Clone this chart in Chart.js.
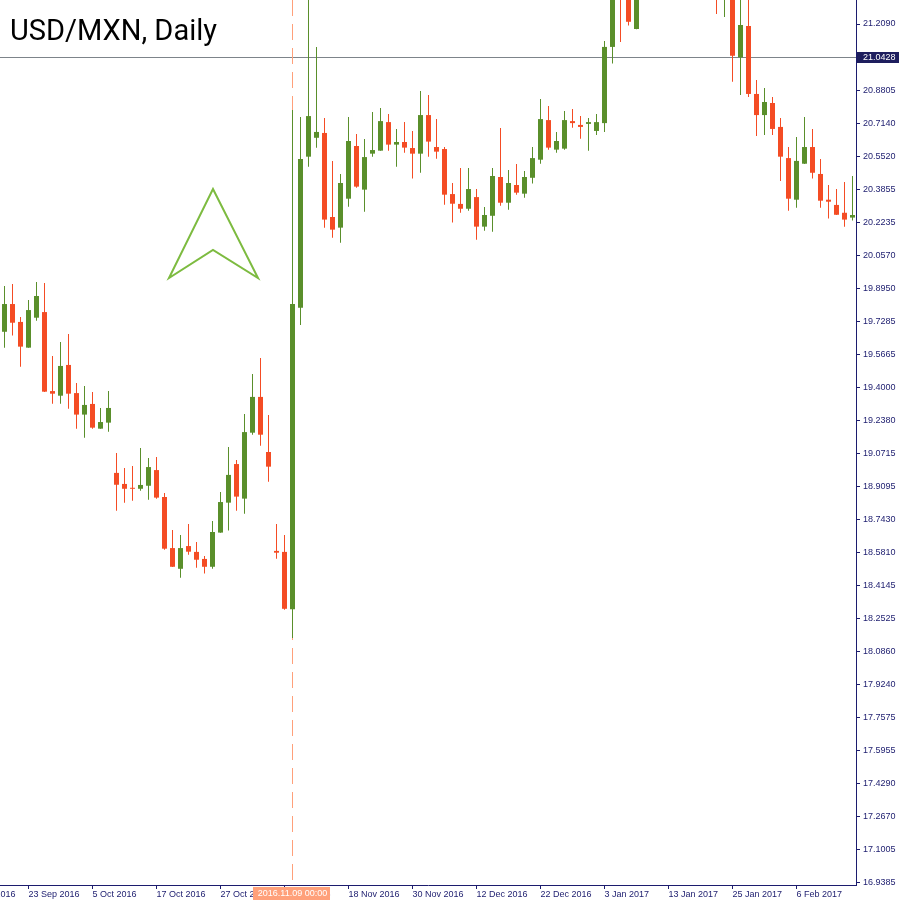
<!DOCTYPE html>
<html>
<head>
<meta charset="utf-8">
<title>USD/MXN, Daily</title>
<script src="https://cdn.jsdelivr.net/npm/chart.js@4.4.1/dist/chart.umd.min.js"></script>
<style>
    html, body { margin: 0; padding: 0; background: #ffffff; }
    #wrap { width: 901px; height: 901px; }
</style>
</head>
<body>
<div id="wrap"><canvas id="chart" width="901" height="901"></canvas></div>
<script>
// Daily bars, index 0 = 20 Sep 2016 ... 106 = 15 Feb 2017
const opens = [19.678, 19.816, 19.727, 19.599, 19.748, 19.776, 19.383, 19.360, 19.513, 19.373,
    19.266, 19.319, 19.196, 19.226, 18.976, 18.921, 18.901, 18.897, 18.912, 18.990,
    18.856, 18.602, 18.499, 18.612, 18.583, 18.548, 18.509, 18.679, 18.828, 19.020,
    18.848, 19.176, 19.354, 19.080, 18.588, 18.583, 18.298, 19.798, 20.549, 20.643,
    20.667, 20.249, 20.196, 20.340, 20.602, 20.385, 20.564, 20.579, 20.721, 20.609,
    20.622, 20.592, 20.564, 20.756, 20.597, 20.587, 20.363, 20.314, 20.290, 20.348,
    20.201, 20.255, 20.448, 20.320, 20.408, 20.365, 20.444, 20.534, 20.731, 20.584,
    20.589, 20.726, 20.707, 20.712, 20.677, 20.716, 21.095, 21.50, 21.45, 21.184,
    21.60, 21.65, 21.90, 21.70, 21.60, 21.88, 21.60, 21.78, 21.90, 21.62,
    21.45, 21.52, 21.043, 21.199, 20.861, 20.756, 20.816, 20.697, 20.542, 20.335,
    20.514, 20.597, 20.463, 20.335, 20.309, 20.270, 20.246];
const highs = [19.906, 19.916, 19.752, 19.836, 19.926, 19.921, 19.558, 19.627, 19.667, 19.423,
    19.408, 19.378, 19.299, 19.383, 19.075, 19.000, 19.010, 19.100, 19.050, 19.055,
    18.876, 18.692, 18.667, 18.722, 18.632, 18.563, 18.737, 18.881, 19.105, 19.040,
    19.269, 19.468, 19.548, 19.264, 18.722, 18.667, 20.781, 20.746, 21.39, 21.095,
    20.741, 20.528, 20.463, 20.746, 20.662, 20.637, 20.771, 20.791, 20.761, 20.687,
    20.721, 20.677, 20.876, 20.856, 20.736, 20.597, 20.418, 20.493, 20.493, 20.388,
    20.299, 20.493, 20.692, 20.483, 20.513, 20.478, 20.597, 20.836, 20.801, 20.672,
    20.776, 20.786, 20.751, 20.741, 20.761, 21.124, 21.46, 21.62, 21.50, 21.62,
    21.72, 22.04, 21.95, 21.80, 21.95, 21.92, 21.85, 22.00, 21.95, 21.70,
    21.60, 21.58, 21.37, 21.36, 20.930, 20.891, 20.846, 20.741, 20.597, 20.647,
    20.746, 20.687, 20.537, 20.408, 20.388, 20.423, 20.453];
const lows = [19.599, 19.659, 19.504, 19.598, 19.733, 19.379, 19.320, 19.320, 19.295, 19.196,
    19.151, 19.196, 19.195, 19.181, 18.788, 18.828, 18.838, 18.887, 18.843, 18.848,
    18.594, 18.508, 18.455, 18.569, 18.504, 18.475, 18.499, 18.678, 18.689, 18.788,
    18.773, 19.166, 19.111, 18.932, 18.549, 18.295, 18.155, 19.712, 20.499, 20.594,
    20.196, 20.146, 20.121, 20.300, 20.395, 20.275, 20.549, 20.578, 20.579, 20.499,
    20.569, 20.440, 20.469, 20.549, 20.539, 20.310, 20.221, 20.270, 20.280, 20.136,
    20.181, 20.176, 20.305, 20.285, 20.360, 20.345, 20.415, 20.514, 20.584, 20.569,
    20.584, 20.693, 20.638, 20.579, 20.657, 20.672, 21.012, 21.119, 21.201, 21.183,
    21.45, 21.55, 21.60, 21.45, 21.55, 21.55, 21.50, 21.70, 21.50, 21.259,
    21.244, 20.922, 20.856, 20.846, 20.652, 20.657, 20.657, 20.428, 20.280, 20.295,
    20.513, 20.440, 20.295, 20.241, 20.259, 20.201, 20.231];
const closes = [19.816, 19.723, 19.604, 19.786, 19.856, 19.380, 19.370, 19.508, 19.370, 19.266,
    19.314, 19.201, 19.229, 19.299, 18.917, 18.897, 18.897, 18.916, 19.005, 18.853,
    18.599, 18.509, 18.602, 18.584, 18.544, 18.509, 18.682, 18.831, 18.966, 18.858,
    19.179, 19.354, 19.166, 19.007, 18.579, 18.300, 19.816, 20.537, 20.751, 20.672,
    20.236, 20.186, 20.418, 20.627, 20.400, 20.547, 20.582, 20.726, 20.609, 20.622,
    20.594, 20.564, 20.756, 20.624, 20.574, 20.360, 20.315, 20.290, 20.388, 20.201,
    20.259, 20.453, 20.320, 20.418, 20.370, 20.448, 20.542, 20.736, 20.594, 20.627,
    20.731, 20.716, 20.697, 20.721, 20.721, 21.095, 21.42, 21.38, 21.220, 21.55,
    21.65, 21.90, 21.70, 21.55, 21.88, 21.60, 21.78, 21.90, 21.62, 21.45,
    21.52, 21.051, 21.204, 20.861, 20.756, 20.821, 20.687, 20.549, 20.340, 20.528,
    20.597, 20.469, 20.330, 20.325, 20.260, 20.236, 20.259];

const dateTickIndex = [-5, 3, 11, 19, 27, 35, 43, 51, 59, 67, 75, 83, 91, 99];
const dateTickLabels = ["13 Sep 2016", "23 Sep 2016", "5 Oct 2016", "17 Oct 2016", "27 Oct 2016",
    "8 Nov 2016", "18 Nov 2016", "30 Nov 2016", "12 Dec 2016", "22 Dec 2016", "3 Jan 2017",
    "13 Jan 2017", "25 Jan 2017", "6 Feb 2017"];
const priceTicks = [21.2090, 20.8805, 20.7140, 20.5520, 20.3855, 20.2235, 20.0570, 19.8950,
    19.7285, 19.5665, 19.4000, 19.2380, 19.0715, 18.9095, 18.7430, 18.5810, 18.4145, 18.2525,
    18.0860, 17.9240, 17.7575, 17.5955, 17.4290, 17.2670, 17.1005, 16.9385];

const priceLine = 21.0428;
const markerIndex = 36;
const markerLabel = "2016.11.09 00:00";
// arrow object anchors: [bar index, price]
const arrowPoints = [[26.06, 20.388], [31.69, 19.9455], [26.06, 20.0848], [20.56, 19.9455]];

const UP = "#5a8f2b";
const DOWN = "#f44c24";
const NAVY = "#1c1c6e";
const AXIS_FONT = { family: "'Liberation Sans', Arial, sans-serif", size: 9 };

const idx = opens.map((_, i) => i);
const barColors = idx.map(i => closes[i] >= opens[i] ? UP : DOWN);

const overlay = {
    id: "overlay",
    beforeDatasetsDraw(chart) {
        const { ctx, chartArea, scales } = chart;
        const x = scales.x, y = scales.y;
        ctx.save();
        // horizontal price line
        const py = Math.floor(y.getPixelForValue(priceLine)) + 0.5;
        ctx.strokeStyle = "#7d848a";
        ctx.lineWidth = 1;
        ctx.beginPath();
        ctx.moveTo(chartArea.left, py);
        ctx.lineTo(chartArea.right, py);
        ctx.stroke();
        // vertical dashed marker
        const mx = x.getPixelForValue(markerIndex);
        ctx.strokeStyle = "#ffa07a";
        ctx.setLineDash([16, 8]);
        ctx.beginPath();
        ctx.moveTo(mx, chartArea.top);
        ctx.lineTo(mx, chartArea.bottom - 4);
        ctx.stroke();
        ctx.restore();
    },
    afterDraw(chart) {
        const { ctx, chartArea, scales } = chart;
        const x = scales.x, y = scales.y;
        ctx.save();
        // arrow
        ctx.beginPath();
        arrowPoints.forEach((p, k) => {
            const px = x.getPixelForValue(p[0]), py = y.getPixelForValue(p[1]);
            if (k === 0) ctx.moveTo(px, py); else ctx.lineTo(px, py);
        });
        ctx.closePath();
        ctx.strokeStyle = "#7dbb40";
        ctx.lineWidth = 2;
        ctx.stroke();

        ctx.font = "9px 'Liberation Sans', Arial, sans-serif";
        ctx.textBaseline = "middle";
        // price label on the axis
        const py = Math.floor(y.getPixelForValue(priceLine)) + 0.5;
        ctx.fillStyle = "#1e1e5e";
        ctx.fillRect(chartArea.right + 1, Math.round(py - 5.5), 42, 11);
        ctx.fillStyle = "#ffffff";
        ctx.textAlign = "left";
        ctx.fillText(priceLine.toFixed(4), chartArea.right + 7, py + 0.5);

        // marker date label
        const mx = x.getPixelForValue(markerIndex);
        ctx.fillStyle = "#ffa07a";
        ctx.fillRect(Math.round(mx - 39.5), chartArea.bottom + 2, 77, 13);
        ctx.fillStyle = "#ffffff";
        ctx.textAlign = "center";
        ctx.fillText(markerLabel, mx, chartArea.bottom + 9);

        // title
        ctx.fillStyle = "#000000";
        ctx.textAlign = "left";
        ctx.textBaseline = "alphabetic";
        ctx.font = "29px Roboto, 'Noto Sans', sans-serif";
        ctx.fillText("USD/MXN, Daily", 10, 40);
        ctx.restore();
    }
};

new Chart(document.getElementById("chart"), {
    type: "bar",
    data: {
        datasets: [
            {
                label: "wick",
                data: idx.map(i => ({ x: i, y: [lows[i], highs[i]] })),
                backgroundColor: barColors,
                barThickness: 1,
                grouped: false,
                inflateAmount: 0,
                borderWidth: 0
            },
            {
                label: "body",
                data: idx.map(i => ({ x: i, y: [opens[i], closes[i]] })),
                backgroundColor: barColors,
                barThickness: 5,
                minBarLength: 1,
                grouped: false,
                inflateAmount: 0,
                borderWidth: 0
            }
        ]
    },
    options: {
        responsive: false,
        animation: false,
        devicePixelRatio: 1,
        layout: { padding: 0, autoPadding: false },
        plugins: { legend: { display: false }, tooltip: { enabled: false }, title: { display: false } },
        scales: {
            x: {
                type: "linear",
                min: -0.5625,
                max: 106.4375,
                bounds: "data",
                offset: false,
                afterBuildTicks: s => { s.ticks = dateTickIndex.map(v => ({ value: v })); },
                afterFit: s => { s.height = 16; s.paddingLeft = 0; s.paddingRight = 0; },
                grid: { offset: false, drawOnChartArea: false, drawTicks: true, tickLength: 4, color: NAVY },
                border: { display: true, color: NAVY },
                ticks: {
                    autoSkip: false, maxRotation: 0, minRotation: 0, align: "start", padding: 0,
                    color: NAVY, font: AXIS_FONT,
                    callback: (v, i) => dateTickLabels[i]
                }
            },
            y: {
                type: "linear",
                position: "right",
                min: 16.926,
                max: 21.3284,
                bounds: "data",
                afterBuildTicks: s => { s.ticks = priceTicks.map(v => ({ value: v })); },
                afterFit: s => { s.width = 45; s.paddingTop = 0; s.paddingBottom = 0; },
                grid: { drawOnChartArea: false, drawTicks: true, tickLength: 4, color: NAVY },
                border: { display: true, color: NAVY },
                ticks: {
                    autoSkip: false, padding: 3, color: NAVY, font: AXIS_FONT,
                    callback: v => Number(v).toFixed(4)
                }
            }
        }
    },
    plugins: [overlay]
});
</script>
</body>
</html>
